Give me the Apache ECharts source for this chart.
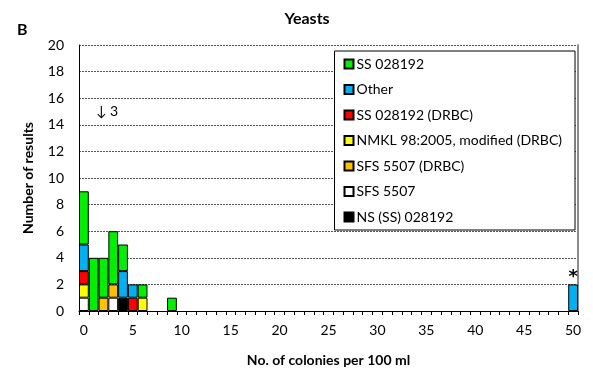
<!DOCTYPE html>
<html><head><meta charset="utf-8">
<script src="https://cdn.jsdelivr.net/npm/echarts@6/dist/echarts.min.js"></script>
<style>html,body{margin:0;padding:0;background:#fff}#c{width:593px;height:368px}</style>
</head><body><div id="c"></div>
<script>
const categories = ['0','1','2','3','4','5','6','7','8','9','10','11','12','13','14','15','16','17','18','19','20','21','22','23','24','25','26','27','28','29','30','31','32','33','34','35','36','37','38','39','40','41','42','43','44','45','46','47','48','49','50'];
// stacked from bottom to top
const sfs5507      = [1,0,0,1,0,0,0,0,0,0,0,0,0,0,0,0,0,0,0,0,0,0,0,0,0,0,0,0,0,0,0,0,0,0,0,0,0,0,0,0,0,0,0,0,0,0,0,0,0,0,0];
const nsSS028192   = [0,0,0,0,1,0,0,0,0,0,0,0,0,0,0,0,0,0,0,0,0,0,0,0,0,0,0,0,0,0,0,0,0,0,0,0,0,0,0,0,0,0,0,0,0,0,0,0,0,0,0];
const nmklDRBC     = [1,0,0,0,0,0,1,0,0,0,0,0,0,0,0,0,0,0,0,0,0,0,0,0,0,0,0,0,0,0,0,0,0,0,0,0,0,0,0,0,0,0,0,0,0,0,0,0,0,0,0];
const sfs5507DRBC  = [0,0,1,1,0,0,0,0,0,0,0,0,0,0,0,0,0,0,0,0,0,0,0,0,0,0,0,0,0,0,0,0,0,0,0,0,0,0,0,0,0,0,0,0,0,0,0,0,0,0,0];
const ss028192DRBC = [1,0,0,0,0,1,0,0,0,0,0,0,0,0,0,0,0,0,0,0,0,0,0,0,0,0,0,0,0,0,0,0,0,0,0,0,0,0,0,0,0,0,0,0,0,0,0,0,0,0,0];
const other        = [2,0,0,0,2,1,0,0,0,0,0,0,0,0,0,0,0,0,0,0,0,0,0,0,0,0,0,0,0,0,0,0,0,0,0,0,0,0,0,0,0,0,0,0,0,0,0,0,0,0,2];
const ss028192     = [4,4,3,4,2,0,1,0,0,1,0,0,0,0,0,0,0,0,0,0,0,0,0,0,0,0,0,0,0,0,0,0,0,0,0,0,0,0,0,0,0,0,0,0,0,0,0,0,0,0,0];
const yTicks = [0,2,4,6,8,10,12,14,16,18,20];
const starCategory = '50';

const seriesDefs = [
  {name:'SFS 5507', data:sfs5507, color:'#FFFFFF'},
  {name:'NS (SS) 028192', data:nsSS028192, color:'#000000'},
  {name:'NMKL 98:2005, modified (DRBC)', data:nmklDRBC, color:'#FFFF00'},
  {name:'SFS 5507 (DRBC)', data:sfs5507DRBC, color:'#FFC000'},
  {name:'SS 028192 (DRBC)', data:ss028192DRBC, color:'#FF0000'},
  {name:'Other', data:other, color:'#00B0F0'},
  {name:'SS 028192', data:ss028192, color:'#00F000'}
];
const legendOrder = ['SS 028192','Other','SS 028192 (DRBC)','NMKL 98:2005, modified (DRBC)','SFS 5507 (DRBC)','SFS 5507','NS (SS) 028192'];

const FONT = 'Lato, "Open Sans", sans-serif';
const chart = echarts.init(document.getElementById('c'), null, {renderer:'canvas'});
const starIdx = categories.indexOf(starCategory);
const series = seriesDefs.map((s) => ({
  name: s.name, type:'bar', stack:'all', barCategoryGap:'0%',
  data: s.data.map((v, i) => {
    if (v === 0) return null;
    if (s.name === 'Other' && i === starIdx) {
      return {value:v, label:{show:true, position:'top', formatter:'*', distance:-2, fontSize:18, fontWeight:'bold', color:'#000', fontFamily:'"DejaVu Sans", sans-serif'}};
    }
    return v;
  }),
  itemStyle:{color:s.color, borderColor:'#000', borderWidth:1},
  emphasis:{disabled:true}, animation:false
}));

chart.setOption({
  animation:false,
  textStyle:{fontFamily:FONT},
  title:[
    {text:'Yeasts', left:302, top:6, textAlign:'center', textStyle:{fontSize:16, fontWeight:'bold', color:'#000', fontFamily:FONT}},
    {text:'B', left:12, top:17, textStyle:{fontSize:16, fontWeight:'bold', color:'#000', fontFamily:FONT}}
  ],
  grid:{left:79, right:15, top:45, bottom:57, containLabel:false, outerBoundsMode:'none'},
  legend:{
    data: legendOrder, orient:'vertical', right:18, top:51,
    icon:'rect', itemWidth:9, itemHeight:9, itemGap:11.5,
    padding:[6,13,6,9], borderColor:'#000', borderWidth:1, backgroundColor:'#fff',
    textStyle:{fontSize:14, color:'#000', fontFamily:FONT, padding:[0,0,0,-2]},
    selectedMode:false
  },
  xAxis:{
    type:'category', data:categories, boundaryGap:true,
    name:'No. of colonies per 100 ml', nameLocation:'middle', nameGap:42,
    nameTextStyle:{fontSize:14, fontWeight:'bold', color:'#000', fontFamily:FONT},
    axisLine:{lineStyle:{color:'#000', width:1}},
    axisTick:{show:true, interval:0, alignWithLabel:false, length:4, lineStyle:{color:'#000'}},
    axisLabel:{interval:4, fontSize:14, color:'#000', margin:12, fontFamily:FONT},
    splitLine:{show:false}
  },
  yAxis:[{
    type:'value', min:yTicks[0], max:yTicks[yTicks.length-1], interval:2,
    name:'Number of results', nameLocation:'middle', nameGap:44,
    nameTextStyle:{fontSize:14, fontWeight:'bold', color:'#000', fontFamily:FONT},
    axisLine:{show:true, lineStyle:{color:'#000', width:1}},
    axisTick:{show:false},
    axisLabel:{fontSize:14, color:'#000', margin:15, fontFamily:FONT},
    splitLine:{show:true, lineStyle:{color:'#555', type:[2,1], width:1}}
  },{
    type:'value', min:0, max:20, interval:2, position:'right',
    axisLine:{show:true, lineStyle:{color:'#8c8c8c', width:2}},
    axisTick:{show:false}, axisLabel:{show:false}, splitLine:{show:false}
  }],
  graphic:[
    {type:'text', left:96, top:104, style:{text:'\u2193 3', font:'14px ' + FONT, fill:'#000'}}
  ],
  series: series
});
</script></body></html>
